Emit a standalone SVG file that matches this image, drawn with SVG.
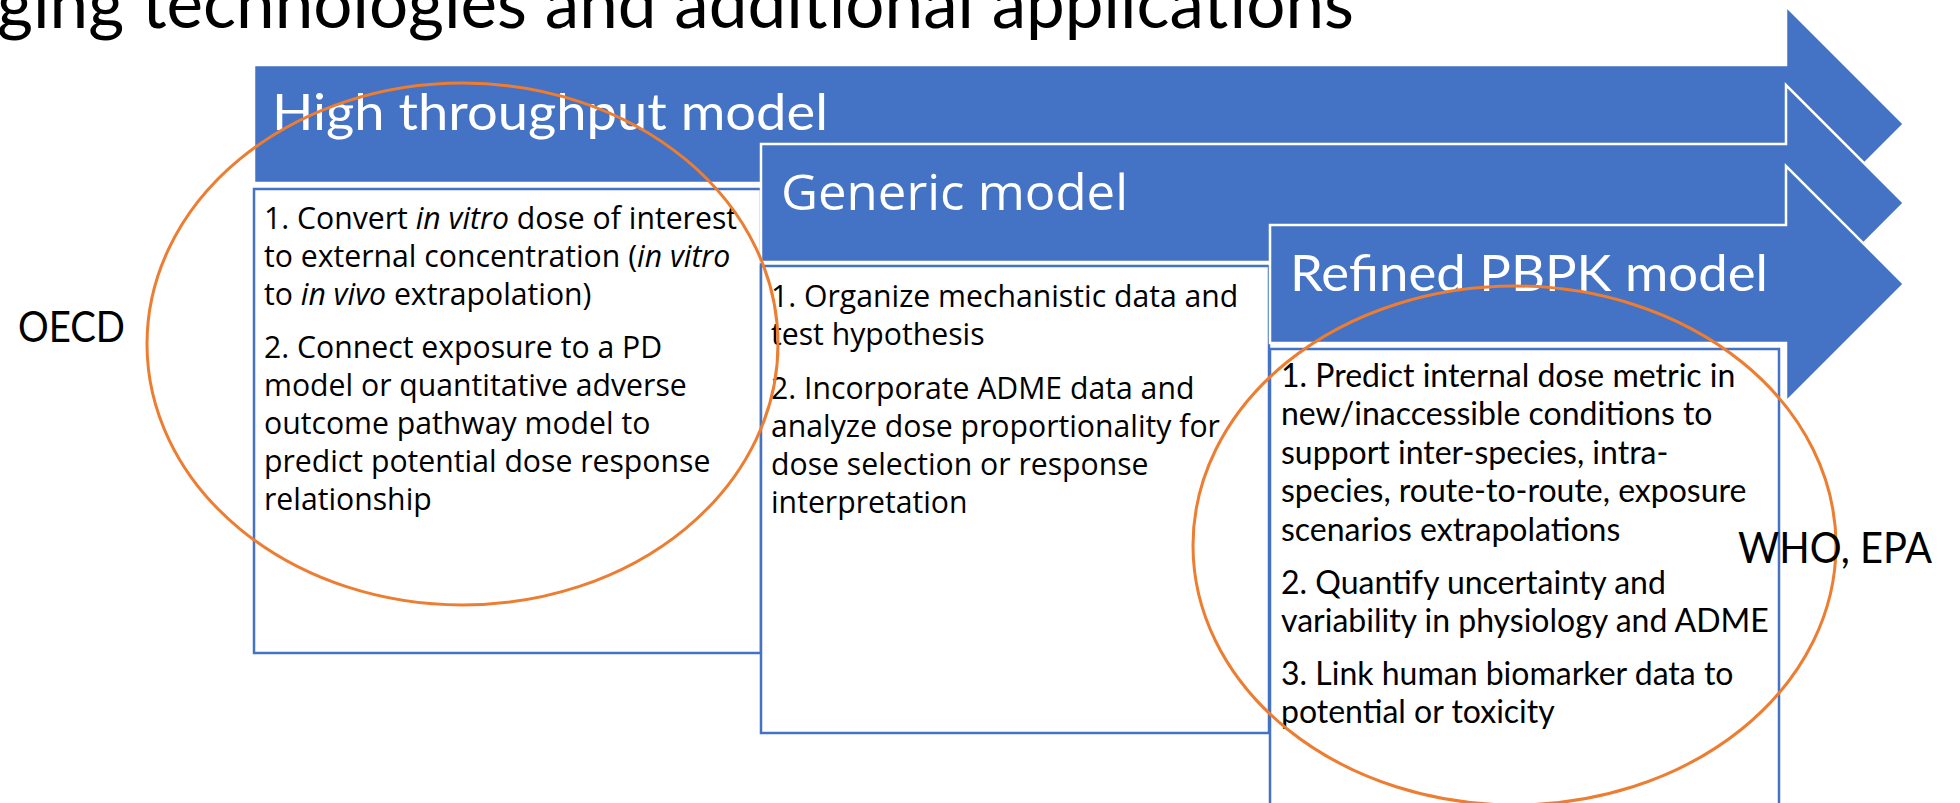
<svg xmlns="http://www.w3.org/2000/svg" width="1960" height="803" viewBox="0 0 1960 803">
<style>
.arrow{fill:#4472C4;stroke:#FFFFFF;stroke-width:2.5;stroke-linejoin:miter}
.box{fill:#FFFFFF;stroke:#4472C4;stroke-width:2.5}
.ring{fill:none;stroke:#ED7D31;stroke-width:3}
.seg{font-family:"Open Sans","Noto Sans","DejaVu Sans",sans-serif;font-size:30.2px;fill:#000000}
.cal{font-family:Lato,"Liberation Sans",sans-serif;fill:#000000}
.body3{font-size:32px}
.lab{font-size:42px}
text.head{fill:#FFFFFF;font-size:50px}
</style>
<text id="title" class="cal" x="-3" y="28" font-size="70" textLength="1357" lengthAdjust="spacingAndGlyphs">ging technologies and additional applications</text>
<g id="node-high-throughput">
<path class="arrow" d="M254,65 H1786 V6 L1904,124 L1786,242 V183 H254 Z"/>
<text class="cal head" x="272" y="130" textLength="556" lengthAdjust="spacingAndGlyphs">High throughput model</text>
<rect class="box" x="254" y="189" width="507" height="464"/>
<text class="seg" x="264" y="229">1. Convert <tspan font-style="italic">in vitro</tspan> dose of interest</text>
<text class="seg" x="264" y="267">to external concentration (<tspan font-style="italic">in vitro</tspan></text>
<text class="seg" x="264" y="305">to <tspan font-style="italic">in vivo</tspan> extrapolation)</text>
<text class="seg" x="264" y="358">2. Connect exposure to a PD</text>
<text class="seg" x="264" y="396">model or quantitative adverse</text>
<text class="seg" x="264" y="434">outcome pathway model to</text>
<text class="seg" x="264" y="472">predict potential dose response</text>
<text class="seg" x="264" y="510">relationship</text>
</g>
<g id="node-generic">
<path class="arrow" d="M761,144 H1786 V85 L1904,203 L1786,321 V262 H761 Z"/>
<text class="seg head" x="781" y="210" textLength="347" lengthAdjust="spacingAndGlyphs">Generic model</text>
<rect class="box" x="761" y="266" width="508" height="467"/>
<text class="seg" x="771" y="307">1. Organize mechanistic data and</text>
<text class="seg" x="771" y="345">test hypothesis</text>
<text class="seg" x="771" y="399">2. Incorporate ADME data and</text>
<text class="seg" x="771" y="437">analyze dose proportionality for</text>
<text class="seg" x="771" y="475">dose selection or response</text>
<text class="seg" x="771" y="513">interpretation</text>
</g>
<g id="node-refined">
<path class="arrow" d="M1270,225 H1786 V166 L1904,284 L1786,402 V343 H1270 Z"/>
<text class="cal head" x="1290" y="291" textLength="478" lengthAdjust="spacingAndGlyphs">Refined PBPK model</text>
<rect class="box" x="1270" y="349" width="509" height="480"/>
<text class="cal body3" x="1281" y="387">1. Predict internal dose metric in</text>
<text class="cal body3" x="1281" y="425">new/inaccessible conditions to</text>
<text class="cal body3" x="1281" y="464">support inter-species, intra-</text>
<text class="cal body3" x="1281" y="502">species, route-to-route, exposure</text>
<text class="cal body3" x="1281" y="541">scenarios extrapolations</text>
<text class="cal body3" x="1281" y="594">2. Quantify uncertainty and</text>
<text class="cal body3" x="1281" y="632">variability in physiology and ADME</text>
<text class="cal body3" x="1281" y="685">3. Link human biomarker data to</text>
<text class="cal body3" x="1281" y="723">potential or toxicity</text>
</g>
<g id="node-oecd">
<ellipse class="ring" cx="462.5" cy="344" rx="315.5" ry="261"/>
<text class="cal lab" x="18" y="342" textLength="107" lengthAdjust="spacingAndGlyphs">OECD</text>
</g>
<g id="node-who-epa">
<ellipse class="ring" cx="1514.5" cy="545.5" rx="321.5" ry="259.5"/>
<text class="cal lab" x="1738" y="563" textLength="194" lengthAdjust="spacingAndGlyphs">WHO, EPA</text>
</g>
<g id="connectors"></g>
</svg>
